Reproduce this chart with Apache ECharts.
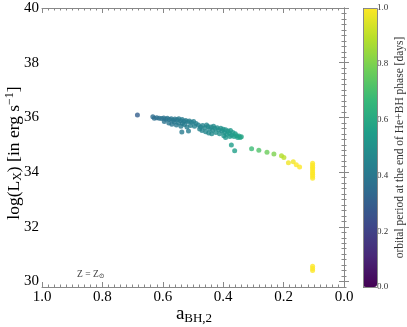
<!DOCTYPE html>
<html>
<head>
<meta charset="utf-8">
<script src="https://cdn.jsdelivr.net/npm/echarts@6/dist/echarts.min.js"></script>
<style>
  html, body { margin: 0; padding: 0; background: #fff; }
  #chart { width: 407px; height: 327px; }
</style>
</head>
<body>
<div id="chart"></div>
<script>
// [a_BH2, log Lx, orbital period]
const clusterPoints = [
  [0.684, 36.09, 0.30],
  [0.633, 36.02, 0.36], [0.628, 35.97, 0.36], [0.620, 35.99, 0.37], [0.612, 35.97, 0.37],
  [0.604, 35.96, 0.38], [0.597, 35.98, 0.38], [0.590, 35.93, 0.38], [0.585, 35.97, 0.39],
  [0.578, 35.92, 0.39], [0.572, 35.95, 0.39], [0.566, 35.90, 0.40], [0.560, 35.94, 0.40],
  [0.553, 35.91, 0.40], [0.547, 35.95, 0.41], [0.541, 35.88, 0.41], [0.536, 35.92, 0.41],
  [0.530, 35.86, 0.42], [0.524, 35.89, 0.42], [0.518, 35.84, 0.42], [0.512, 35.87, 0.43],
  [0.505, 35.82, 0.43], [0.498, 35.85, 0.43],
  [0.595, 35.85, 0.38], [0.580, 35.80, 0.39], [0.570, 35.75, 0.39], [0.562, 35.83, 0.40],
  [0.555, 35.72, 0.40], [0.548, 35.80, 0.41], [0.540, 35.68, 0.41], [0.535, 35.78, 0.41],
  [0.528, 35.74, 0.42], [0.537, 35.47, 0.41], [0.515, 35.50, 0.42], [0.520, 35.65, 0.42],
  [0.508, 35.70, 0.43],
  [0.490, 35.78, 0.44], [0.482, 35.72, 0.44], [0.475, 35.65, 0.45], [0.468, 35.70, 0.45],
  [0.460, 35.62, 0.46], [0.455, 35.72, 0.46], [0.450, 35.67, 0.47], [0.445, 35.58, 0.47],
  [0.440, 35.65, 0.47], [0.435, 35.53, 0.48], [0.432, 35.68, 0.48], [0.428, 35.60, 0.48],
  [0.424, 35.45, 0.49], [0.420, 35.62, 0.49], [0.415, 35.55, 0.49], [0.412, 35.40, 0.50],
  [0.408, 35.60, 0.50], [0.404, 35.50, 0.50], [0.400, 35.57, 0.51], [0.396, 35.45, 0.51],
  [0.392, 35.55, 0.52], [0.388, 35.38, 0.52], [0.384, 35.50, 0.52], [0.380, 35.43, 0.53],
  [0.376, 35.52, 0.53], [0.372, 35.35, 0.54], [0.368, 35.45, 0.54], [0.364, 35.30, 0.55],
  [0.360, 35.40, 0.55], [0.356, 35.33, 0.56], [0.352, 35.27, 0.56], [0.348, 35.32, 0.57],
  [0.344, 35.27, 0.57], [0.340, 35.29, 0.58],
  [0.470, 35.52, 0.45], [0.458, 35.48, 0.46], [0.448, 35.43, 0.47], [0.438, 35.40, 0.48],
  [0.478, 35.58, 0.45], [0.495, 35.68, 0.44], [0.398, 35.33, 0.51], [0.392, 35.27, 0.52],
  [0.378, 35.30, 0.53], [0.373, 34.99, 0.55], [0.362, 34.78, 0.56]
];
const tailPoints = [
  [0.306, 34.85, 0.68], [0.282, 34.80, 0.72], [0.255, 34.73, 0.77], [0.232, 34.66, 0.80],
  [0.207, 34.60, 0.88], [0.199, 34.53, 0.90], [0.184, 34.34, 0.98], [0.168, 34.38, 0.98],
  [0.158, 34.27, 1.0], [0.147, 34.19, 1.0]
];
const edgePoints = [
  [0.104, 34.32, 1.0], [0.104, 34.25, 1.0], [0.104, 34.18, 1.0], [0.104, 34.12, 1.0],
  [0.104, 34.05, 1.0], [0.104, 33.98, 1.0], [0.104, 33.92, 1.0], [0.104, 33.85, 1.0],
  [0.104, 33.78, 1.0], [0.104, 30.56, 1.0], [0.104, 30.48, 1.0], [0.104, 30.40, 1.0]
];
const yMajorTicks = [30, 32, 34, 36, 38, 40];
const yMinorTicks = [];
for (let v = 29.8; v <= 40.001; v += 0.2) yMinorTicks.push(+v.toFixed(1));
const viridis = ['#440154', '#482878', '#3e4989', '#31688e', '#26828e',
                 '#1f9e89', '#35b779', '#6ece58', '#b5de2b', '#fde725'];

const serif = '"Liberation Serif", "DejaVu Serif", serif';
const frameColor = '#888';

const chart = echarts.init(document.getElementById('chart'));

function yAx(pos, major, labels) {
  return {
    type: 'value', gridIndex: 0, min: 29.8, max: 40, position: pos,
    axisLine: { show: !major, lineStyle: { color: frameColor, width: 1 } },
    axisTick: {
      show: true, inside: true, length: major ? 5 : 2.5,
      customValues: major ? yMajorTicks : yMinorTicks,
      lineStyle: { color: frameColor }
    },
    axisLabel: {
      show: labels, customValues: yMajorTicks, margin: 3,
      color: '#000', fontFamily: serif, fontSize: 15
    },
    splitLine: { show: false }
  };
}
function xAx(pos, labels) {
  return {
    type: 'value', gridIndex: 0, min: 0, max: 1, interval: 0.2, inverse: true, position: pos,
    axisLine: { show: true, onZero: false, lineStyle: { color: frameColor, width: 1 } },
    axisTick: { show: true, inside: true, length: 5, lineStyle: { color: frameColor } },
    minorTick: { show: true, splitNumber: 10, length: 2.5, lineStyle: { color: frameColor } },
    axisLabel: {
      show: labels, margin: 3, color: '#000', fontFamily: serif, fontSize: 15,
      formatter: v => v.toFixed(1)
    },
    splitLine: { show: false }
  };
}

chart.setOption({
  animation: false,
  grid: [
    { left: 42, right: 63, top: 8, bottom: 40 },
    { left: 363, top: 8, width: 14, height: 279 }
  ],
  xAxis: [
    xAx('bottom', true),
    xAx('top', false),
    { type: 'value', gridIndex: 1, show: false, min: 0, max: 1 }
  ],
  yAxis: [
    yAx('left', false, false),
    yAx('left', true, true),
    yAx('right', false, false),
    yAx('right', true, false),
    {
      type: 'value', gridIndex: 1, min: 0, max: 1, interval: 0.2, position: 'right',
      axisLine: { show: false },
      axisTick: { show: true, length: 3, lineStyle: { color: '#555' } },
      axisLabel: {
        margin: 4, color: '#333', fontFamily: serif, fontSize: 9,
        formatter: v => v.toFixed(1)
      },
      splitLine: { show: false },
      name: 'orbital period at the end of He+BH phase [days]',
      nameLocation: 'middle', nameRotate: 90, nameGap: 21,
      nameTextStyle: { color: '#333', fontFamily: serif, fontSize: 11.5 }
    }
  ],
  visualMap: {
    type: 'continuous', min: 0, max: 1, dimension: 2, seriesIndex: [0, 1, 2],
    calculable: false, show: true, text: null, showLabel: false,
    left: 363, top: 8, itemWidth: 14, itemHeight: 279, padding: 0,
    inRange: { color: viridis }
  },
  graphic: [
    {
      type: 'rect', z: 100, silent: true,
      shape: { x: 363.5, y: 8.5, width: 14, height: 279 },
      style: { fill: 'none', stroke: frameColor, lineWidth: 1 }
    },
    {
      type: 'text', left: 77, top: 269,
      style: {
        text: '{m|Z = Z}{s|⊙}',
        rich: {
          m: { fontFamily: serif, fontSize: 9.5, fill: '#444' },
          s: { fontFamily: serif, fontSize: 7, fill: '#444', padding: [5, 0, 0, 0] }
        }
      }
    },
    {
      type: 'text', x: 194, y: 314,
      style: {
        text: '{m|a}{s|BH,2}', align: 'center', verticalAlign: 'middle',
        rich: {
          m: { fontFamily: serif, fontSize: 19, fill: '#000' },
          s: { fontFamily: serif, fontSize: 13, fill: '#000', padding: [9, 0, 0, 0] }
        }
      }
    },
    {
      type: 'text', x: 14, y: 153, rotation: Math.PI / 2,
      style: {
        text: '{m|log(L}{s|X}{m|) [in erg s}{p|−1}{m|]}', align: 'center', verticalAlign: 'middle',
        rich: {
          m: { fontFamily: serif, fontSize: 17.5, fill: '#000' },
          s: { fontFamily: serif, fontSize: 12, fill: '#000', padding: [8, 0, 0, 0] },
          p: { fontFamily: serif, fontSize: 12, fill: '#000', padding: [0, 0, 9, 0] }
        }
      }
    }
  ],
  series: [
    { type: 'scatter', xAxisIndex: 0, yAxisIndex: 0, data: clusterPoints, symbolSize: 5 },
    { type: 'scatter', xAxisIndex: 0, yAxisIndex: 0, data: tailPoints, symbolSize: 5 },
    { type: 'scatter', xAxisIndex: 0, yAxisIndex: 0, data: edgePoints, symbolSize: 5 }
  ]
});
</script>
</body>
</html>
